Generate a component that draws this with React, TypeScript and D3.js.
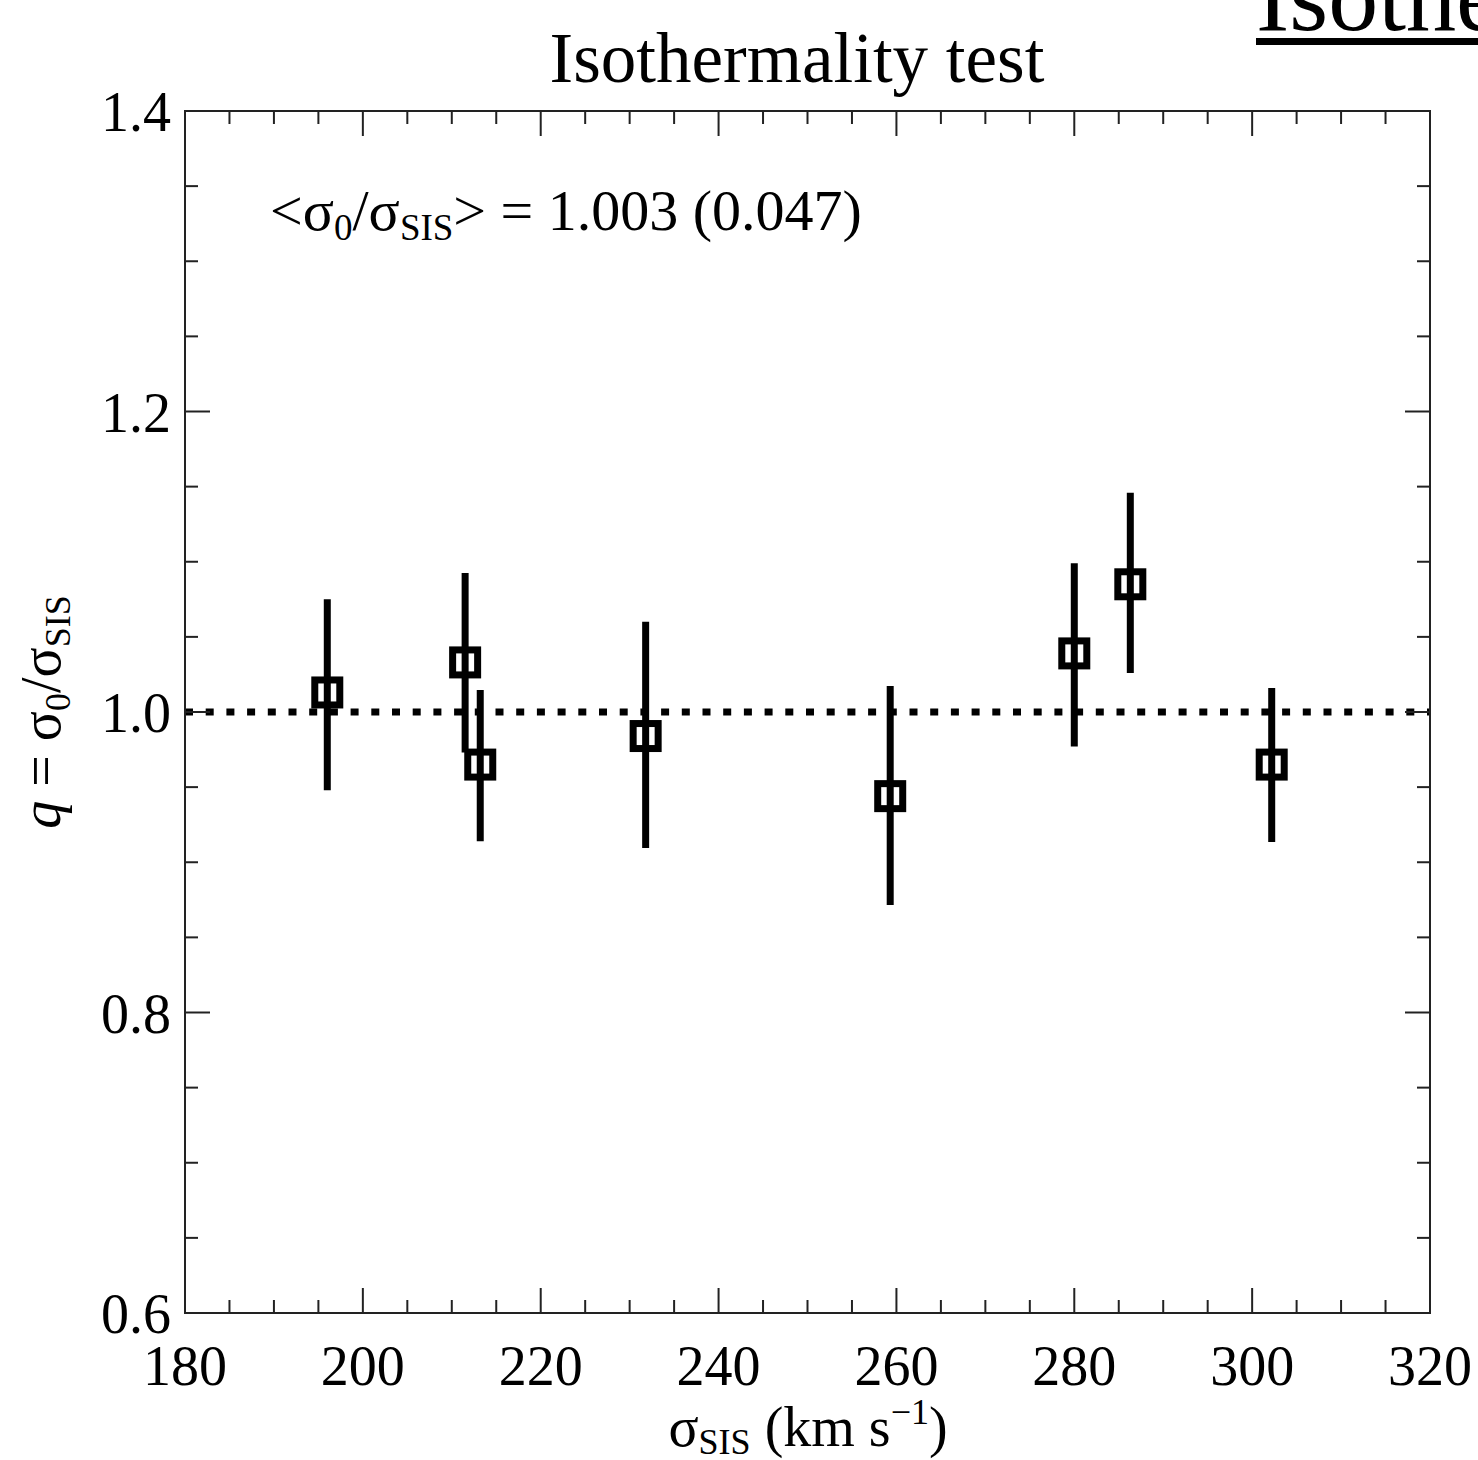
import React from "react";
import * as d3 from "d3";

const sigmaSIS = [196, 211.5, 213.2, 231.8, 259.3, 280, 286.3, 302.2];
const qValues = [1.013, 1.033, 0.965, 0.984, 0.944, 1.039, 1.085, 0.965];
const qLow = [0.948, 0.973, 0.914, 0.9095, 0.8716, 0.977, 1.026, 0.9135];
const qHigh = [1.075, 1.0925, 1.0146, 1.06, 1.0173, 1.099, 1.146, 1.016];
const xMajorTicks = [180, 200, 220, 240, 260, 280, 300, 320];
const yMajorTicks = [0.6, 0.8, 1.0, 1.2, 1.4];

const W = 1478;
const H = 1460;
const L = 185, R = 1430, T = 111, B = 1313;
const FONT = "'Liberation Serif', 'Times New Roman', serif";

export default function App() {
  const x = d3.scaleLinear().domain([180, 320]).range([L, R]);
  const y = d3.scaleLinear().domain([0.6, 1.4]).range([B, T]);
  const xMinor = d3.range(180, 320.01, 5).filter((v) => Math.abs(v % 20) > 0.01);
  const yMinor = d3.range(0.6, 1.4001, 0.05).filter((v) => Math.abs(Math.round(v * 100) % 20) > 0.01);
  const maj = 25, mnr = 13;
  const axisColor = "#222";
  const box = 25;

  return (
    <svg width={W} height={H} style={{ position: "absolute", left: 0, top: 0, background: "#fff" }} fontFamily={FONT}>
      <rect x={0} y={0} width={W} height={H} fill="#fff" />
      {/* cropped heading top-right */}
      <text x={1256} y={30} fontSize={100} fill="#000">Isothermality</text>
      <rect x={1256} y={38} width={W - 1256} height={7} fill="#000" />

      <text x={797} y={82} fontSize={71} textAnchor="middle" fill="#000">Isothermality test</text>

      {/* dotted line at q = 1 */}
      <line x1={L} x2={R} y1={y(1)} y2={y(1)} stroke="#000" strokeWidth={7} strokeDasharray="8,12.7" />

      {/* frame */}
      <rect x={L} y={T} width={R - L} height={B - T} fill="none" stroke={axisColor} strokeWidth={2} />

      {/* x ticks */}
      {xMajorTicks.map((v) => (
        <g key={"xm" + v}>
          <line x1={x(v)} x2={x(v)} y1={B} y2={B - maj} stroke={axisColor} strokeWidth={2} />
          <line x1={x(v)} x2={x(v)} y1={T} y2={T + maj} stroke={axisColor} strokeWidth={2} />
          <text x={x(v)} y={1385} fontSize={56} textAnchor="middle" fill="#000">{v}</text>
        </g>
      ))}
      {xMinor.map((v) => (
        <g key={"xn" + v}>
          <line x1={x(v)} x2={x(v)} y1={B} y2={B - mnr} stroke={axisColor} strokeWidth={2} />
          <line x1={x(v)} x2={x(v)} y1={T} y2={T + mnr} stroke={axisColor} strokeWidth={2} />
        </g>
      ))}
      {/* y ticks */}
      {yMajorTicks.map((v) => (
        <g key={"ym" + v}>
          <line x1={L} x2={L + maj} y1={y(v)} y2={y(v)} stroke={axisColor} strokeWidth={2} />
          <line x1={R} x2={R - maj} y1={y(v)} y2={y(v)} stroke={axisColor} strokeWidth={2} />
          <text x={171} y={y(v) + 20} fontSize={56} textAnchor="end" fill="#000">{v.toFixed(1)}</text>
        </g>
      ))}
      {yMinor.map((v) => (
        <g key={"yn" + v}>
          <line x1={L} x2={L + mnr} y1={y(v)} y2={y(v)} stroke={axisColor} strokeWidth={2} />
          <line x1={R} x2={R - mnr} y1={y(v)} y2={y(v)} stroke={axisColor} strokeWidth={2} />
        </g>
      ))}

      {/* error bars */}
      {sigmaSIS.map((s, i) => (
        <line key={"e" + i} x1={x(s)} x2={x(s)} y1={y(qLow[i])} y2={y(qHigh[i])} stroke="#000" strokeWidth={7} />
      ))}
      {/* squares */}
      {sigmaSIS.map((s, i) => (
        <rect key={"b" + i} x={x(s) - box / 2} y={y(qValues[i]) - box / 2} width={box} height={box} fill="none" stroke="#000" strokeWidth={7} />
      ))}

      {/* annotation */}
      <text x={270} y={230} fontSize={58} fill="#000">
        {"<σ"}
        <tspan fontSize={37} dy={10}>0</tspan>
        <tspan dy={-10}>/σ</tspan>
        <tspan fontSize={37} dy={10}>SIS</tspan>
        <tspan dy={-10}>{"> = 1.003 (0.047)"}</tspan>
      </text>

      {/* x axis label */}
      <text x={808} y={1446} fontSize={56} textAnchor="middle" fill="#000">
        σ
        <tspan fontSize={36} dy={8}>SIS</tspan>
        <tspan dy={-8}> (km s</tspan>
        <tspan fontSize={36} dy={-22}>−1</tspan>
        <tspan dy={22}>)</tspan>
      </text>

      {/* y axis label */}
      <text transform={`translate(60, ${y(1)}) rotate(-90)`} fontSize={56} textAnchor="middle" fill="#000">
        <tspan fontStyle="italic">q</tspan>
        {" = σ"}
        <tspan fontSize={36} dy={10}>0</tspan>
        <tspan dy={-10}>/σ</tspan>
        <tspan fontSize={36} dy={10}>SIS</tspan>
      </text>
    </svg>
  );
}
